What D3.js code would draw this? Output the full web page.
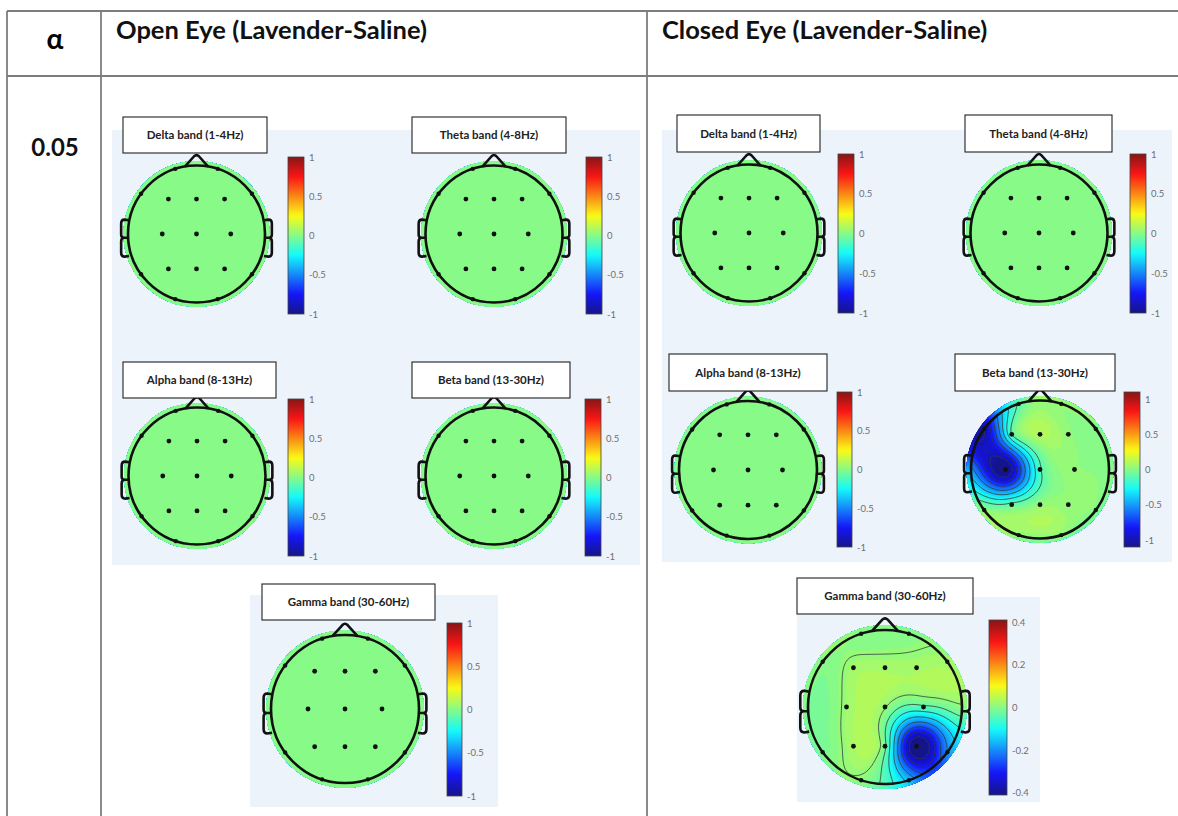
<!DOCTYPE html>
<html>
<head>
<meta charset="utf-8">
<script src="https://cdn.jsdelivr.net/npm/d3@7"></script>
<style>
  body { margin: 0; background: #fff; }
  text { font-family: Lato, "Open Sans", "DejaVu Sans", sans-serif; }
</style>
</head>
<body>
<div id="chart"></div>
<script>
// ---- data ----
const conditions = ["Open Eye (Lavender-Saline)", "Closed Eye (Lavender-Saline)"];
const bands = ["Delta band (1-4Hz)", "Theta band (4-8Hz)", "Alpha band (8-13Hz)", "Beta band (13-30Hz)", "Gamma band (30-60Hz)"];
const alphaLevels = ["0.05"];

// 10-20 montage, unit head radius (y grows toward the back of the head)
const channels = ["Fp1","Fp2","F7","F3","Fz","F4","F8","T7","C3","Cz","C4","T8","P7","P3","Pz","P4","P8","O1","O2"];
const chanX = [-0.309, 0.309, -0.809, -0.41, 0, 0.41, 0.809, -1, -0.5, 0, 0.5, 1, -0.809, -0.41, 0, 0.41, 0.809, -0.309, 0.309];
const chanY = [-0.951, -0.951, -0.588, -0.51, -0.51, -0.51, -0.588, 0, 0, 0, 0, 0, 0.588, 0.51, 0.51, 0.51, 0.588, 0.951, 0.951];
// 1 = rim marker, 0 = inner dot, 2 = hidden under the ear
const marker = [1,1,1,0,0,0,1,2,0,0,0,2,1,0,0,0,1,1,1];

// Lavender - Saline differences per channel
const openDelta   = [0,0,0,0,0,0,0,0,0,0,0,0,0,0,0,0,0,0,0];
const openTheta   = [0,0,0,0,0,0,0,0,0,0,0,0,0,0,0,0,0,0,0];
const openAlpha   = [0,0,0,0,0,0,0,0,0,0,0,0,0,0,0,0,0,0,0];
const openBeta    = [0,0,0,0,0,0,0,0,0,0,0,0,0,0,0,0,0,0,0];
const openGamma   = [0,0,0,0,0,0,0,0,0,0,0,0,0,0,0,0,0,0,0];
const closedDelta = [0,0,0,0,0,0,0,0,0,0,0,0,0,0,0,0,0,0,0];
const closedTheta = [0,0,0,0,0,0,0,0,0,0,0,0,0,0,0,0,0,0,0];
const closedAlpha = [0,0,0,0,0,0,0,0,0,0,0,0,0,0,0,0,0,0,0];
const closedBeta  = [-0.1, 0.03, -1.0, -0.12, 0.1, 0.03, 0.0, -0.5, -1.15, -0.14, 0.02, 0.0, 0.02, -0.08, 0.03, 0.02, 0.0, 0.03, 0.02];
const closedGamma = [0.0, 0.0, 0.0, 0.025, 0.028, 0.028, 0.025, -0.01, 0.02, 0.015, -0.04, 0.005, -0.01, 0.03, -0.02, -0.45, -0.2, 0.005, -0.16];

// colour bar ranges, ticks and contour levels
const unitRange = [-1, 1];
const betaRange = [-1.1, 1.1];
const gammaRange = [-0.41, 0.41];
const unitTicks = [-1, -0.5, 0, 0.5, 1];
const gammaTicks = [-0.4, -0.2, 0, 0.2, 0.4];
const betaLevels = [-1.0, -0.85, -0.7, -0.55, -0.4, -0.25, -0.12];
const gammaLevels = [-0.38, -0.32, -0.26, -0.2, -0.14, -0.08, -0.03, 0.012];

// ---- layout ----
const W = 1178, H = 816;
const svg = d3.select("#chart").append("svg").attr("width", W).attr("height", H);

const maps = [
  {cond: 0, band: 0, vals: openDelta,   range: unitRange,  ticks: unitTicks,  levels: [], cx: 196.5, cy: 234, r: 68.5, box: [123, 117, 144, 36], bar: [288, 157, 16, 157]},
  {cond: 0, band: 1, vals: openTheta,   range: unitRange,  ticks: unitTicks,  levels: [], cx: 494,   cy: 234, r: 68.5, box: [412, 117, 154, 36], bar: [586, 157, 16, 157]},
  {cond: 0, band: 2, vals: openAlpha,   range: unitRange,  ticks: unitTicks,  levels: [], cx: 197,   cy: 476, r: 68.5, box: [123, 362, 153, 36], bar: [288, 399, 16, 157]},
  {cond: 0, band: 3, vals: openBeta,    range: unitRange,  ticks: unitTicks,  levels: [], cx: 494,   cy: 476, r: 68.5, box: [412, 362, 158, 36], bar: [585, 399, 16, 157]},
  {cond: 0, band: 4, vals: openGamma,   range: unitRange,  ticks: unitTicks,  levels: [], cx: 345,   cy: 709, r: 74,   box: [262, 584, 173, 36], bar: [447, 623, 15, 173]},
  {cond: 1, band: 0, vals: closedDelta, range: unitRange,  ticks: unitTicks,  levels: [], cx: 749,   cy: 233, r: 68.5, box: [677, 115, 143, 37], bar: [838, 154, 16, 159]},
  {cond: 1, band: 1, vals: closedTheta, range: unitRange,  ticks: unitTicks,  levels: [], cx: 1039,  cy: 233, r: 68.5, box: [965, 115, 147, 37], bar: [1130, 154, 16, 159]},
  {cond: 1, band: 2, vals: closedAlpha, range: unitRange,  ticks: unitTicks,  levels: [], cx: 748,   cy: 470, r: 69,   box: [669, 354, 158, 37], bar: [837, 392, 15, 155]},
  {cond: 1, band: 3, vals: closedBeta,  range: betaRange,  ticks: unitTicks,  levels: betaLevels,  cx: 1040, cy: 469.5, r: 69, box: [955, 354, 160, 37], bar: [1124, 392, 16, 155]},
  {cond: 1, band: 4, vals: closedGamma, range: gammaRange, ticks: gammaTicks, levels: gammaLevels, cx: 885,  cy: 707,   r: 77, box: [797, 578, 176, 36], bar: [989, 620, 18, 175]}
];

// light blue figure backgrounds
const panelsBg = [[112, 130, 528, 435], [662, 130, 510, 432], [250, 595, 248, 212], [797, 597, 243, 205]];
svg.selectAll(".bg").data(panelsBg).enter().append("rect")
  .attr("class", "bg")
  .attr("x", d => d[0]).attr("y", d => d[1])
  .attr("width", d => d[2]).attr("height", d => d[3])
  .attr("fill", "#edf3fb");

// table grid
const grid = svg.append("g").attr("stroke", "#7d7d7d").attr("stroke-width", 1.8);
grid.append("line").attr("x1", 7).attr("x2", W).attr("y1", 11).attr("y2", 11);
grid.append("line").attr("x1", 7).attr("x2", W).attr("y1", 76).attr("y2", 76);
[7, 101, 647].forEach(x => grid.append("line").attr("x1", x).attr("x2", x).attr("y1", 11).attr("y2", H));

svg.append("text").attr("x", 55).attr("y", 49).attr("text-anchor", "middle")
  .attr("font-size", 28).attr("font-weight", 700).text("α");
svg.selectAll(".cond").data(conditions).enter().append("text")
  .attr("class", "cond")
  .attr("x", (d, i) => i === 0 ? 116 : 662).attr("y", 39)
  .attr("font-size", 25.5).attr("font-weight", 700).attr("fill", "#111")
  .text(d => d);
svg.append("text").attr("x", 55).attr("y", 156).attr("text-anchor", "middle")
  .attr("font-size", 24).attr("font-weight", 700).attr("fill", "#111").text(alphaLevels[0]);

// jet colormap, slightly washed like the scanned figure
function jet(t) {
  const c = v => Math.round(0.9 * 255 * Math.max(0, Math.min(1, v)) + 0.1 * 205);
  return `rgb(${c(1.5 - Math.abs(4 * t - 3))},${c(1.5 - Math.abs(4 * t - 2))},${c(1.5 - Math.abs(4 * t - 1))})`;
}

const defs = svg.append("defs");
const grad = defs.append("linearGradient").attr("id", "jetbar")
  .attr("x1", 0).attr("x2", 0).attr("y1", 1).attr("y2", 0);
d3.range(0, 1.0001, 0.02).forEach(t => grad.append("stop").attr("offset", t).attr("stop-color", jet(t)));

// biharmonic spline interpolation (same idea as griddata 'v4')
function spline(xs, ys, vs) {
  const n = xs.length;
  const g = r => r === 0 ? 0 : r * r * (Math.log(r) - 1);
  const A = xs.map((x, i) => xs.map((x2, j) => g(Math.hypot(x - x2, ys[i] - ys[j]))).concat([vs[i]]));
  for (let c = 0; c < n; c++) {
    let p = c;
    for (let k = c + 1; k < n; k++) if (Math.abs(A[k][c]) > Math.abs(A[p][c])) p = k;
    [A[c], A[p]] = [A[p], A[c]];
    for (let k = 0; k < n; k++) {
      if (k === c || A[c][c] === 0) continue;
      const f = A[k][c] / A[c][c];
      for (let j = c; j <= n; j++) A[k][j] -= f * A[c][j];
    }
  }
  const w = A.map((row, i) => row[i] === 0 ? 0 : row[n] / row[i]);
  return (x, y) => d3.sum(xs, (xi, i) => w[i] * g(Math.hypot(x - xi, y - ys[i])));
}

const N = 91, EXT = 1.1;

maps.forEach((m, idx) => {
  const g = svg.append("g");
  const color = d3.scaleSequential(jet).domain(m.range);
  const f = spline(chanX, chanY, m.vals);
  const values = new Array(N * N);
  for (let j = 0; j < N; j++) for (let i = 0; i < N; i++) {
    const v = f(-EXT + 2 * EXT * i / (N - 1), -EXT + 2 * EXT * j / (N - 1));
    values[j * N + i] = Math.max(m.range[0], Math.min(m.range[1], v));
  }
  const s = 2 * EXT * m.r / (N - 1);
  const proj = d3.geoIdentity().scale(s).translate([m.cx - EXT * m.r - 0.5 * s, m.cy - EXT * m.r - 0.5 * s]);
  const path = d3.geoPath(proj);

  const clipDisc = "disc" + idx, clipHead = "head" + idx;
  defs.append("clipPath").attr("id", clipDisc).append("circle").attr("cx", m.cx).attr("cy", m.cy).attr("r", m.r * 1.065);
  defs.append("clipPath").attr("id", clipHead).append("circle").attr("cx", m.cx).attr("cy", m.cy).attr("r", m.r);

  // filled map
  const steps = 64, step = (m.range[1] - m.range[0]) / steps;
  const thr = d3.range(0, steps + 1).map(k => m.range[0] + (k - 0.5) * step);
  g.append("g").attr("clip-path", `url(#${clipDisc})`)
    .selectAll("path").data(d3.contours().size([N, N]).thresholds(thr)(values)).enter().append("path")
    .attr("d", path)
    .attr("fill", d => color(Math.min(m.range[1], d.value + step / 2)))
    .attr("stroke", d => color(Math.min(m.range[1], d.value + step / 2)))
    .attr("stroke-width", 0.4);

  // contour lines
  if (m.levels.length) {
    g.append("g").attr("clip-path", `url(#${clipHead})`)
      .selectAll("path").data(d3.contours().size([N, N]).thresholds(m.levels)(values)).enter().append("path")
      .attr("d", path).attr("fill", "none").attr("stroke", "#2f3b3a").attr("stroke-width", 1).attr("stroke-opacity", 0.8);
  }

  // head outline, nose, ears
  const x = u => m.cx + u * m.r, y = u => m.cy + u * m.r;
  const outline = g.append("g").attr("fill", "none").attr("stroke", "#111").attr("stroke-width", 2.6).attr("stroke-linejoin", "round");
  outline.append("circle").attr("cx", m.cx).attr("cy", m.cy).attr("r", m.r);
  outline.append("path").attr("d",
    `M${x(-0.17)},${y(-0.985)} L${x(-0.035)},${y(-1.135)} Q${x(0)},${y(-1.17)} ${x(0.035)},${y(-1.135)} L${x(0.17)},${y(-0.985)}`);
  [-1, 1].forEach(sd => {
    const e = (a, b) => `${x(sd * a)},${y(b)}`;
    outline.append("path").attr("d",
      `M${e(0.99, -0.2)} L${e(1.05, -0.21)} Q${e(1.1, -0.21)} ${e(1.1, -0.15)} L${e(1.1, 0.01)} Q${e(1.1, 0.05)} ${e(1.06, 0.055)}` +
      ` Q${e(1.1, 0.06)} ${e(1.1, 0.11)} L${e(1.1, 0.27)} Q${e(1.1, 0.33)} ${e(1.05, 0.33)} L${e(0.985, 0.32)}` +
      ` M${e(1.06, 0.055)} L${e(1.0, 0.055)}`);
  });

  // electrodes
  g.selectAll(".el").data(channels.filter((d, i) => marker[i] < 2)).enter().append("circle")
    .attr("cx", d => x(chanX[channels.indexOf(d)])).attr("cy", d => y(chanY[channels.indexOf(d)]))
    .attr("r", d => marker[channels.indexOf(d)] ? 2.2 : 2.4)
    .attr("fill", "#111");

  // label box
  g.append("rect").attr("x", m.box[0]).attr("y", m.box[1]).attr("width", m.box[2]).attr("height", m.box[3])
    .attr("fill", "#fff").attr("stroke", "#222").attr("stroke-width", 1.1);
  g.append("text").attr("x", m.box[0] + m.box[2] / 2).attr("y", m.box[1] + m.box[3] / 2 + 4)
    .attr("text-anchor", "middle").attr("font-size", 11.5).attr("font-weight", 700).attr("fill", "#222")
    .text(bands[m.band]);

  // colour bar
  const [bx, by, bw, bh] = m.bar;
  g.append("rect").attr("x", bx).attr("y", by).attr("width", bw).attr("height", bh)
    .attr("fill", "url(#jetbar)").attr("stroke", "#444").attr("stroke-width", 0.8);
  const yScale = d3.scaleLinear().domain(m.range).range([by + bh, by]);
  const ax = g.append("g").attr("transform", `translate(${bx + bw},0)`)
    .call(d3.axisRight(yScale).tickValues(m.ticks).tickSize(0).tickPadding(5).tickFormat(d => String(d)));
  ax.select(".domain").remove();
  ax.selectAll("text").attr("fill", "#6f6f6f").attr("font-size", 9.5).attr("font-family", "Lato, 'Open Sans', sans-serif");
});
</script>
</body>
</html>
